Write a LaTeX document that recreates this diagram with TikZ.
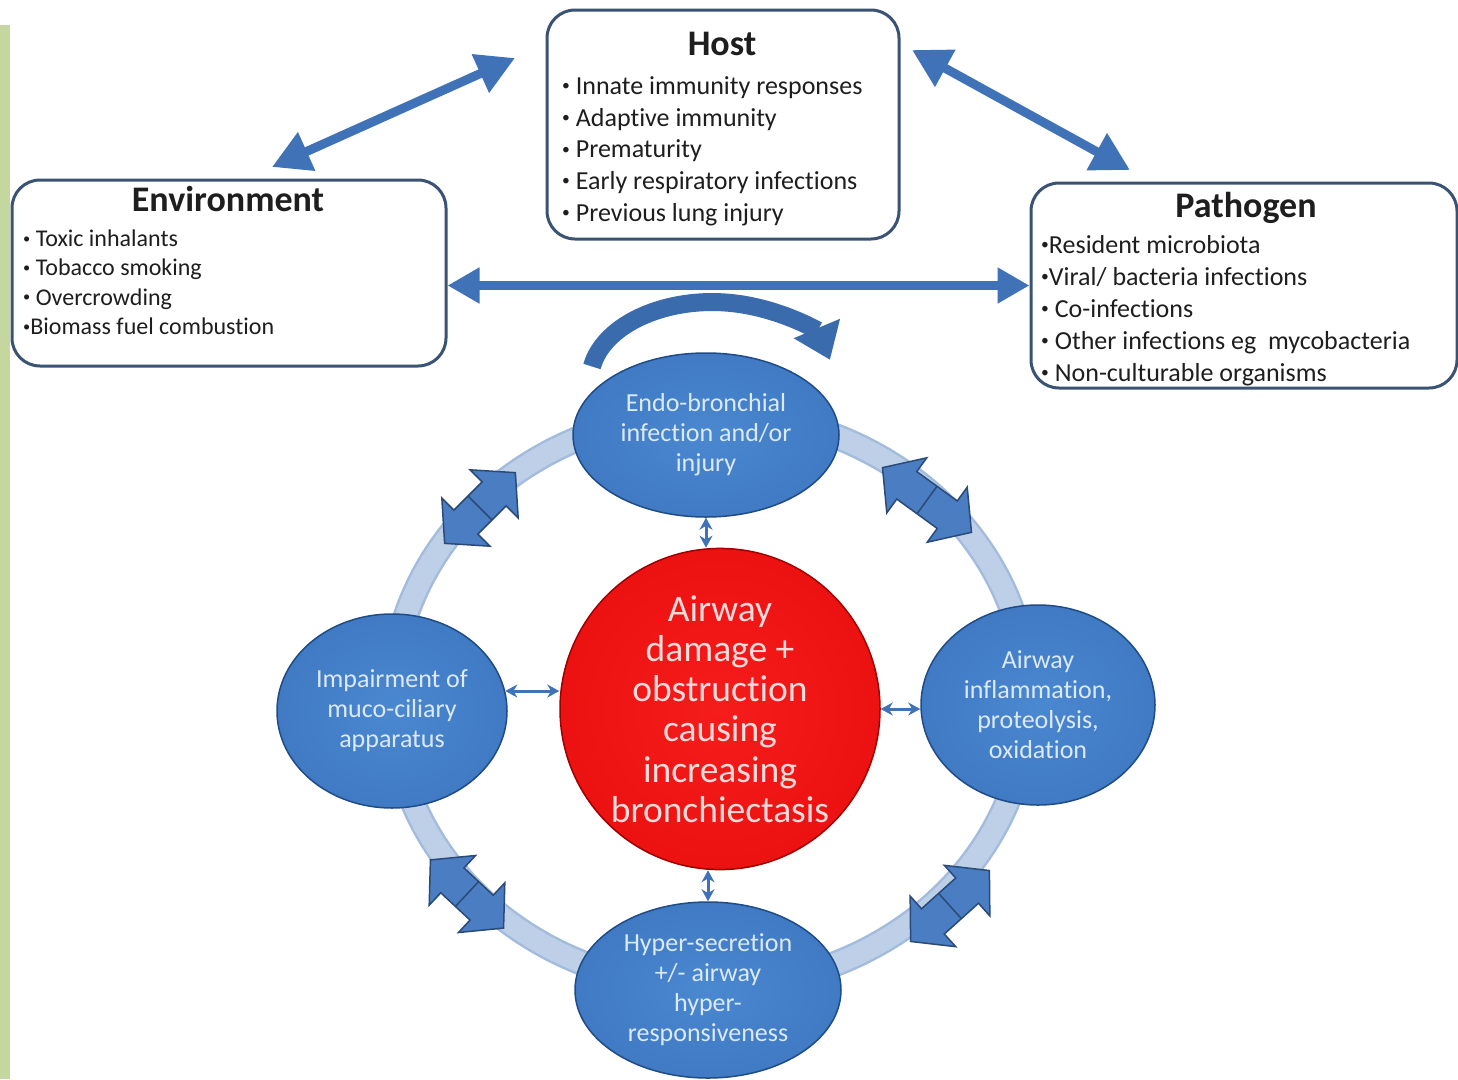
\documentclass[tikz,border=0pt]{standalone}
\usepackage{fontspec}
\setmainfont{Carlito}[Ligatures=NoCommon]
\usetikzlibrary{arrows.meta,shapes.geometric,calc}

\definecolor{strip}{HTML}{C4D79E}
\definecolor{boxline}{HTML}{3A5273}
\definecolor{txt}{HTML}{1E1E1E}
\definecolor{arrowblue}{HTML}{3F72B6}
\definecolor{curveblue}{HTML}{3A6BAC}
\definecolor{ringblue}{HTML}{BDD0E8}
\definecolor{ringedge}{HTML}{A3BCDD}
\definecolor{blkfill}{HTML}{4A7DC1}
\definecolor{blkline}{HTML}{2A4A78}
\definecolor{bA}{HTML}{4A88D0}
\definecolor{bB}{HTML}{3B74BE}
\definecolor{bC}{HTML}{2A5DA0}
\definecolor{bD}{HTML}{4079BF}
\definecolor{bedge}{HTML}{1F4C86}
\definecolor{blueText}{HTML}{DCE9F7}
\definecolor{rA}{HTML}{F51C1C}
\definecolor{rB}{HTML}{E80D0D}
\definecolor{rC}{HTML}{C40000}
\definecolor{rD}{HTML}{D81212}
\definecolor{redge}{HTML}{A00000}
\definecolor{redText}{HTML}{F8DADA}

\pgfdeclareradialshading{blueball}{\pgfpoint{0bp}{0bp}}{color(0bp)=(bA); color(36bp)=(bB); color(46bp)=(bC); color(50bp)=(bD)}
\pgfdeclareradialshading{redball}{\pgfpoint{0bp}{0bp}}{color(0bp)=(rA); color(36bp)=(rB); color(46bp)=(rC); color(50bp)=(rD)}

% small list bullet
\newcommand\itemdot{\raisebox{0.14em}{\scalebox{0.6}{•}}}

\tikzset{
  factorbox/.style={draw=boxline, line width=3pt, rounded corners=28pt, fill=white, inner sep=0pt},
  boxtitle/.style={font=\fontsize{36}{40}\selectfont\bfseries, text=txt, inner sep=0pt,
    text height=0.65em, text depth=0pt},
  item/.style={text=txt, inner sep=0pt, anchor=west, text height=0.75em, text depth=0.25em},
  hostitem/.style={item, font=\fontsize{26}{30}\selectfont},
  envitem/.style={item, font=\fontsize{24}{28}\selectfont},
  pathitem/.style={item, font=\fontsize{26}{30}\selectfont},
  blueoval/.style={ellipse, shade, shading=blueball, draw=bedge, line width=1.5pt, inner sep=0pt,
    text=blueText, align=center, font=\fontsize{26}{30}\selectfont},
  redoval/.style={ellipse, shade, shading=redball, draw=redge, line width=1.5pt, inner sep=0pt,
    text=redText, align=center, font=\fontsize{37.5}{40.2}\selectfont},
  smallarrow/.style={arrowblue, line width=3pt,
    {Stealth[length=12pt,width=13pt]}-{Stealth[length=12pt,width=13pt]}},
  bigarrow/.style={arrowblue, line width=9pt,
    {Triangle[length=38pt,width=40pt]}-{Triangle[length=38pt,width=40pt]}},
  flatarrow/.style={arrowblue, line width=9pt,
    {Triangle[length=32pt,width=34pt]}-{Triangle[length=32pt,width=34pt]}},
  pics/dblarrow/.style={code={
    \draw[blkline, fill=blkfill, line width=1.5pt, line join=miter]
      (-#1,0) -- (-#1+30,34) -- (-#1+30,17) -- (#1-30,17) -- (#1-30,34) -- (#1,0)
      -- (#1-30,-34) -- (#1-30,-17) -- (-#1+30,-17) -- (-#1+30,-34) -- cycle;
    \draw[blkline, line width=1.5pt] (0,17) -- (0,-17);
  }}
}

\begin{document}
\begin{tikzpicture}[x=1pt,y=-1pt]
\useasboundingbox (0,0) rectangle (1458,1079);
\fill[white] (0,0) rectangle (1458,1079);
\fill[strip] (0,25) rectangle (10,1079);

% ring linking the four processes
\draw[ringedge, line width=26pt] (710,700) ellipse [x radius=318, y radius=287];
\draw[ringblue, line width=21pt] (710,700) ellipse [x radius=318, y radius=287];

% block double arrows sitting on the ring
\pic[rotate=45]  (ringTL) at (480,508) {dblarrow=50};
\pic[rotate=-36] (ringTR) at (927,500) {dblarrow=55};
\pic[rotate=-43] (ringBL) at (467,894) {dblarrow=50};
\pic[rotate=42]  (ringBR) at (950,906) {dblarrow=53};

% process ovals
\node[blueoval, minimum width=266, minimum height=164] (top) at (706,435)
  {Endo-bronchial\\infection and/or\\injury};
\node[blueoval, minimum width=230, minimum height=194] (left) at (392,711)
  {Impairment of\\muco-ciliary\\apparatus};
\node[blueoval, minimum width=234, minimum height=200] (right) at (1038,705)
  {Airway\\inflammation,\\proteolysis,\\oxidation};
\node[blueoval, minimum width=266, minimum height=176] (bottom) at (708,990)
  {Hyper-secretion\\+/- airway\\hyper-\\responsiveness};
\node[redoval, minimum width=320, minimum height=278] (red) at (720,709)
  {Airway\\damage +\\obstruction\\causing\\increasing\\bronchiectasis};

% links to the central oval
\draw[smallarrow] (top.south) -- (top.south |- red.north);
\draw[smallarrow] (left.10) -- (left.10 -| red.west);
\draw[smallarrow] (red.east) -- (red.east -| right.west);
\draw[smallarrow] (bottom.north) -- (bottom.north |- red.south);

% factor boxes
\node[factorbox, minimum width=352, minimum height=229] (host) at (723,124.5) {};
\node[factorbox, minimum width=434, minimum height=186] (env) at (229,273) {};
\node[factorbox, minimum width=426, minimum height=205] (path) at (1244,285.5) {};

\node[boxtitle] (hostTitle) at (722,52) {Host};
\node[boxtitle] (envTitle) at (228,208) {Environment};
\node[boxtitle] (pathTitle) at (1246,214) {Pathogen};

\foreach \t [count=\i] in {{\itemdot\ Innate immunity responses},{\itemdot\ Adaptive immunity},
    {\itemdot\ Prematurity},{\itemdot\ Early respiratory infections},{\itemdot\ Previous lung injury}}
  \node[hostitem] (hostItem\i) at (562,{92+31.7*(\i-1)}) {\t};

\foreach \t [count=\i] in {{\itemdot\ Toxic inhalants},{\itemdot\ Tobacco smoking},
    {\itemdot\ Overcrowding},{\itemdot Biomass fuel combustion}}
  \node[envitem] (envItem\i) at (23,{244+29.3*(\i-1)}) {\t};

\foreach \t [count=\i] in {{\itemdot Resident microbiota},{\itemdot Viral/ bacteria infections},
    {\itemdot\ Co-infections},{\itemdot\ Other infections eg\ \ mycobacteria},
    {\itemdot\ Non-culturable organisms}}
  \node[pathitem] (pathItem\i) at (1041,{251+32*(\i-1)}) {\t};

% interactions between the factors
\coordinate (envTip) at (272,167);
\coordinate (hostTipL) at (515,58);
\coordinate (hostTipR) at (912,50);
\coordinate (pathTip) at (1130,170);
\draw[bigarrow] (envTip) -- (hostTipL);
\draw[bigarrow] (hostTipR) -- (pathTip);
\draw[flatarrow] (env.east |- path.west) -- (path.west);

% recurring cycle arrow over the top oval
\draw[curveblue, line width=18pt, -{Triangle[length=34pt,width=48pt]}]
  (592,366.5) arc[start angle=190, end angle=345, x radius=122, y radius=78];
\end{tikzpicture}
\end{document}
